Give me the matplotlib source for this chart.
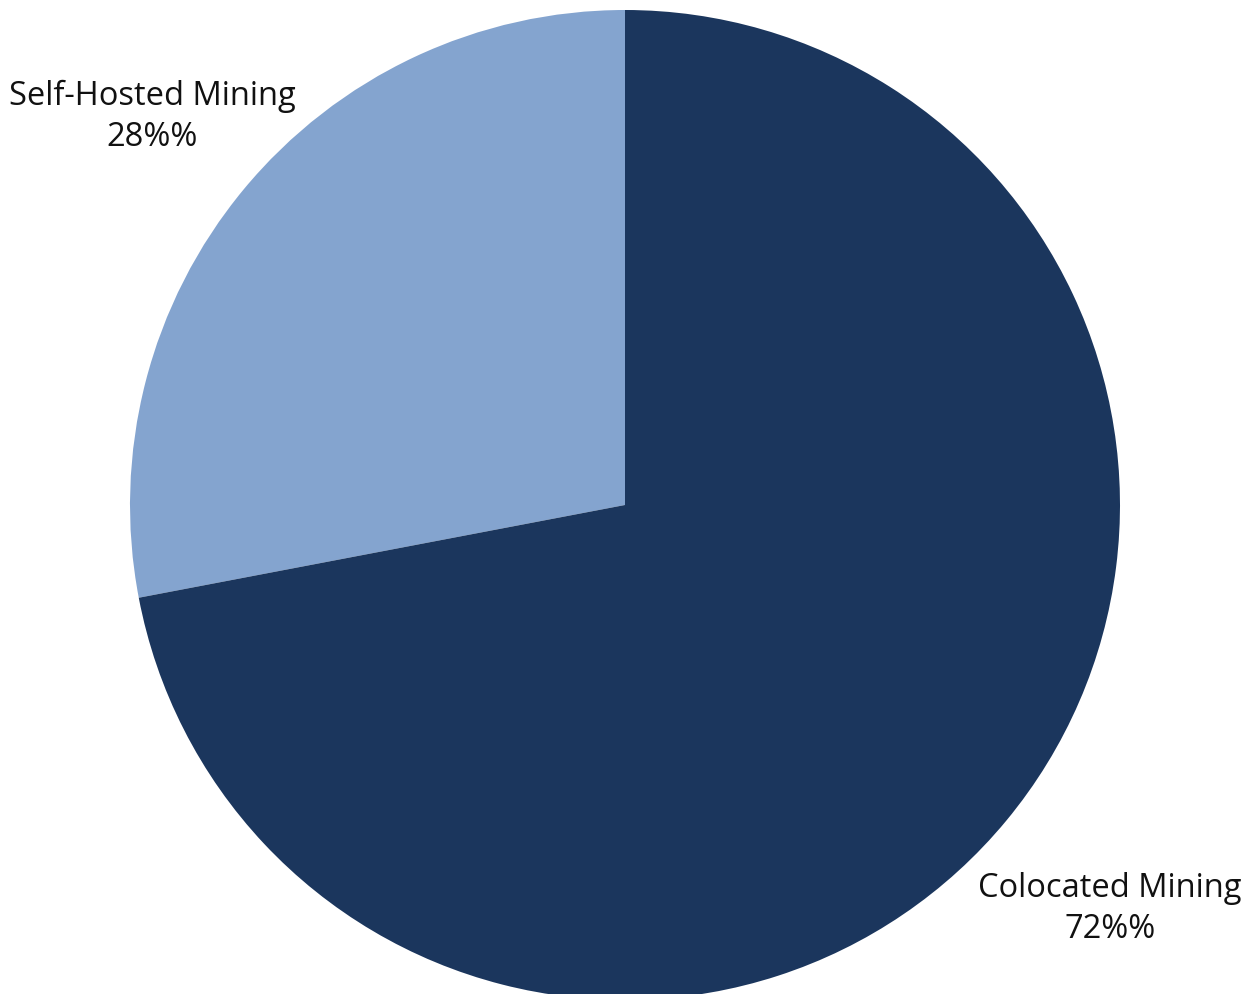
import matplotlib
matplotlib.use("Agg")
import matplotlib.pyplot as plt
from matplotlib.transforms import ScaledTranslation

categories = ["Self-Hosted Mining", "Colocated Mining"]
values = [28, 72]
colors = ["#84A4CF", "#1B365D"]

fig = plt.figure(figsize=(12.57, 9.94), dpi=100)
W, H = 1257, 994
cx, cy, r = 625, 505, 495
ax = fig.add_axes([(cx - r) / W, (H - cy - r) / H, 2 * r / W, 2 * r / H])
ax.set_xlim(-1, 1)
ax.set_ylim(-1, 1)
ax.axis("off")

labels = [f"{c}\n{v}%%" for c, v in zip(categories, values)]
wedges, texts = ax.pie(values, colors=colors, startangle=90, counterclock=True,
                       labels=labels, labeldistance=1.255, radius=1,
                       wedgeprops=dict(linewidth=0),
                       textprops=dict(fontsize=23.5, family=["Open Sans", "DejaVu Sans"],
                                      color="#111111", linespacing=1.3))
offset = ScaledTranslation(6 / 100, -8 / 100, fig.dpi_scale_trans)
for t in texts:
    t.set_ha("center")
    t.set_va("center")
    t.set_clip_on(False)
    t.set_transform(ax.transData + offset)
for w in wedges:
    w.set_clip_on(False)
ax.set_xlim(-1, 1)
ax.set_ylim(-1, 1)
fig.savefig("out.png", dpi=100)
